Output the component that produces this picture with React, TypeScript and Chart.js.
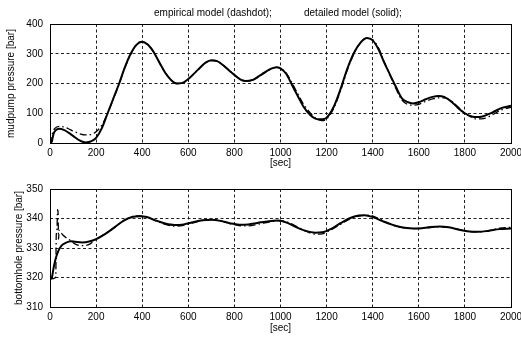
import React, { useEffect, useRef } from "react";
import { Chart, registerables } from "chart.js";

Chart.register(...registerables);

const HEADER = ["empirical model (dashdot);", "detailed model (solid);"];
const X_TITLE = "[sec]";
const TOP_Y_TITLE = "mudpump pressure [bar]";
const BOTTOM_Y_TITLE = "bottomhole pressure [bar]";

// Top plot: mud pump pressure
const topSolidT = [0, 8, 15, 25, 40, 60, 80, 100, 130, 155, 180, 200, 225, 250, 275, 300, 325, 350, 375, 398, 425, 450, 475, 500, 525, 550, 575, 600, 640, 675, 700, 725, 750, 790, 825, 850, 880, 920, 960, 982, 1000, 1025, 1050, 1075, 1100, 1130, 1160, 1180, 1200, 1230, 1260, 1290, 1320, 1350, 1375, 1400, 1425, 1450, 1475, 1500, 1525, 1550, 1575, 1600, 1630, 1660, 1685, 1710, 1740, 1770, 1800, 1830, 1850, 1880, 1920, 1960, 2000];
const topSolidV = [0, 5, 30, 43, 48, 44, 35, 24, 8, 2, 6, 17, 50, 100, 150, 200, 255, 300, 330, 340, 330, 305, 270, 236, 212, 200, 202, 215, 245, 270, 278, 275, 262, 235, 214, 208, 212, 232, 250, 255, 251, 232, 195, 158, 122, 93, 80, 80, 85, 120, 180, 250, 305, 340, 353, 345, 315, 270, 230, 190, 152, 138, 133, 137, 147, 155, 158, 155, 140, 118, 100, 89, 87, 90, 103, 118, 125];

const topDashT = [0, 5, 10, 20, 40, 60, 80, 100, 130, 150, 175, 200, 225, 250, 275, 300, 325, 350, 375, 398, 425, 450, 475, 500, 525, 550, 575, 600, 640, 675, 700, 725, 750, 790, 825, 850, 880, 920, 960, 982, 1000, 1025, 1050, 1075, 1100, 1130, 1160, 1180, 1200, 1230, 1260, 1290, 1320, 1350, 1375, 1400, 1425, 1450, 1475, 1500, 1525, 1550, 1575, 1600, 1630, 1660, 1685, 1710, 1740, 1770, 1800, 1830, 1850, 1880, 1920, 1960, 2000];
const topDashV = [0, 0, 30, 48, 56, 54, 48, 40, 31, 27, 28, 38, 60, 100, 148, 198, 252, 298, 330, 340, 331, 306, 270, 236, 212, 200, 202, 215, 245, 269, 277, 275, 262, 236, 215, 209, 212, 230, 249, 254, 251, 235, 202, 165, 130, 100, 80, 75, 80, 115, 175, 245, 302, 340, 352, 347, 320, 273, 228, 184, 146, 130, 127, 130, 140, 148, 152, 152, 142, 122, 100, 86, 81, 82, 95, 112, 120];

// Bottom plot: bottomhole pressure
const botSolidT = [0, 8, 15, 25, 35, 50, 70, 90, 110, 140, 170, 200, 240, 280, 320, 360, 390, 420, 460, 500, 540, 580, 620, 660, 700, 740, 780, 820, 860, 900, 950, 990, 1030, 1070, 1110, 1150, 1180, 1220, 1260, 1300, 1340, 1365, 1400, 1440, 1480, 1520, 1560, 1600, 1650, 1690, 1730, 1780, 1820, 1860, 1900, 1950, 2000];
const botSolidV = [319.5, 320, 323, 326.5, 328.8, 330.8, 331.8, 332.3, 332.1, 331.9, 332.2, 333, 334.8, 337, 339.3, 340.6, 340.8, 340.5, 339.3, 338.3, 337.8, 338, 338.7, 339.4, 339.6, 339.2, 338.4, 337.9, 338, 338.5, 339.1, 339.3, 338.5, 337, 335.8, 335.2, 335.3, 336.5, 338.4, 340.1, 341, 341.1, 340.5, 339.2, 338, 337.1, 336.7, 336.6, 337.1, 337.3, 337, 336.1, 335.6, 335.5, 335.8, 336.4, 336.6];

const botDashT = [0, 25, 27, 30, 33, 35, 37, 40, 45, 55, 70, 90, 110, 140, 170, 200, 240, 280, 320, 360, 390, 420, 460, 500, 540, 580, 620, 660, 700, 740, 780, 820, 860, 900, 950, 990, 1030, 1070, 1110, 1150, 1180, 1220, 1260, 1300, 1340, 1385, 1420, 1460, 1500, 1540, 1580, 1620, 1660, 1700, 1740, 1790, 1830, 1870, 1910, 1950, 2000];
const botDashV = [319.5, 320, 334, 336, 343, 342, 333, 336, 335.5, 334.5, 333.5, 332.5, 331.3, 330.8, 331.2, 333, 334.8, 337, 339.3, 340.7, 340.9, 340.5, 339.2, 338, 337.4, 337.7, 338.5, 339.3, 339.6, 339.2, 338.3, 337.6, 337.5, 338, 338.8, 339.3, 338.8, 337.3, 335.7, 334.7, 334.8, 336.2, 338, 339.8, 340.8, 341.1, 340.2, 338.7, 337.4, 336.8, 336.6, 336.7, 337, 337.2, 336.9, 336, 335.5, 335.5, 336, 336.7, 337];

const FONT = '"Liberation Sans", Arial, Helvetica, sans-serif';

function pts(t: number[], v: number[]) {
  return t.map((x, i) => ({ x, y: v[i] }));
}

const boxPlugin = {
  id: "box",
  afterDatasetsDraw(chart: any) {
    const { left, top, right, bottom } = chart.chartArea;
    const ctx = chart.ctx;
    ctx.save();
    ctx.strokeStyle = "#000";
    ctx.lineWidth = 1;
    ctx.setLineDash([]);
    const l = Math.round(left) + 0.5;
    const t = Math.round(top) + 0.5;
    ctx.strokeRect(l, t, Math.round(right) - Math.round(left), Math.round(bottom) - Math.round(top));
    ctx.restore();
  },
};

const headerPlugin = {
  id: "header",
  afterDraw(chart: any) {
    const ctx = chart.ctx;
    ctx.save();
    ctx.font = `10px ${FONT}`;
    ctx.fillStyle = "#000";
    ctx.textBaseline = "middle";
    ctx.textAlign = "left";
    ctx.fillText(HEADER[0], 154, 13);
    ctx.fillText(HEADER[1], 304, 13);
    ctx.restore();
  },
};

function buildConfig(p: {
  solid: { x: number; y: number }[];
  dash: { x: number; y: number }[];
  yMin: number;
  yMax: number;
  yStep: number;
  yTitle: string;
  yTitlePad: number;
  padTop: number;
  xAxisH: number;
  header: boolean;
}): any {
  return {
    type: "line",
    data: {
      datasets: [
        {
          data: p.dash,
          borderColor: "#000",
          borderWidth: 1.3,
          borderDash: [7, 3, 1.5, 3],
          pointRadius: 0,
          cubicInterpolationMode: "monotone",
          fill: false,
        },
        {
          data: p.solid,
          borderColor: "#000",
          borderWidth: 2,
          pointRadius: 0,
          cubicInterpolationMode: "monotone",
          fill: false,
        },
      ],
    },
    options: {
      responsive: false,
      animation: false,
      devicePixelRatio: 1,
      layout: { padding: { top: p.padTop, right: 10, left: 0, bottom: 0 } },
      plugins: {
        legend: { display: false },
        tooltip: { enabled: false },
        title: { display: false },
      },
      scales: {
        x: {
          type: "linear",
          min: 0,
          max: 2000,
          grid: { color: "#222", lineWidth: 1, drawTicks: false },
          border: { display: false, dash: [3, 2.5] },
          ticks: {
            stepSize: 200,
            autoSkip: false,
            maxRotation: 0,
            padding: 4,
            color: "#000",
            font: { family: FONT, size: 10 },
            callback: (v: any) => String(v),
          },
          title: {
            display: true,
            text: X_TITLE,
            color: "#000",
            font: { family: FONT, size: 10 },
            padding: { top: 0, bottom: 3 },
          },
          afterFit: (s: any) => {
            s.height = p.xAxisH;
            s.paddingLeft = 0;
            s.paddingRight = 0;
          },
        },
        y: {
          type: "linear",
          min: p.yMin,
          max: p.yMax,
          grid: { color: "#222", lineWidth: 1, drawTicks: false },
          border: { display: false, dash: [3, 2.5] },
          ticks: {
            stepSize: p.yStep,
            padding: 7,
            color: "#000",
            font: { family: FONT, size: 10 },
            callback: (v: any) => String(v),
          },
          title: {
            display: true,
            text: p.yTitle,
            color: "#000",
            font: { family: FONT, size: 10 },
            padding: { top: p.yTitlePad, bottom: 0 },
          },
          afterFit: (s: any) => {
            s.width = 50;
            s.paddingTop = 0;
            s.paddingBottom = 0;
          },
        },
      },
    },
    plugins: p.header ? [boxPlugin, headerPlugin] : [boxPlugin],
  };
}

export default function App() {
  const topRef = useRef<HTMLCanvasElement>(null);
  const botRef = useRef<HTMLCanvasElement>(null);

  useEffect(() => {
    const c1 = new Chart(
      topRef.current!,
      buildConfig({
        solid: pts(topSolidT, topSolidV),
        dash: pts(topDashT, topDashV),
        yMin: 0,
        yMax: 400,
        yStep: 100,
        yTitle: TOP_Y_TITLE,
        yTitlePad: 5,
        padTop: 24,
        xAxisH: 29,
        header: true,
      })
    );
    const c2 = new Chart(
      botRef.current!,
      buildConfig({
        solid: pts(botSolidT, botSolidV),
        dash: pts(botDashT, botDashV),
        yMin: 310,
        yMax: 350,
        yStep: 10,
        yTitle: BOTTOM_Y_TITLE,
        yTitlePad: 13.5,
        padTop: 17,
        xAxisH: 30,
        header: false,
      })
    );
    return () => {
      c1.destroy();
      c2.destroy();
    };
  }, []);

  return (
    <div style={{ position: "fixed", left: 0, top: 0, width: 521, height: 337, background: "#fff" }}>
      <canvas ref={topRef} width={521} height={172} style={{ display: "block", width: 521, height: 172 }} />
      <canvas ref={botRef} width={521} height={165} style={{ display: "block", width: 521, height: 165 }} />
    </div>
  );
}
